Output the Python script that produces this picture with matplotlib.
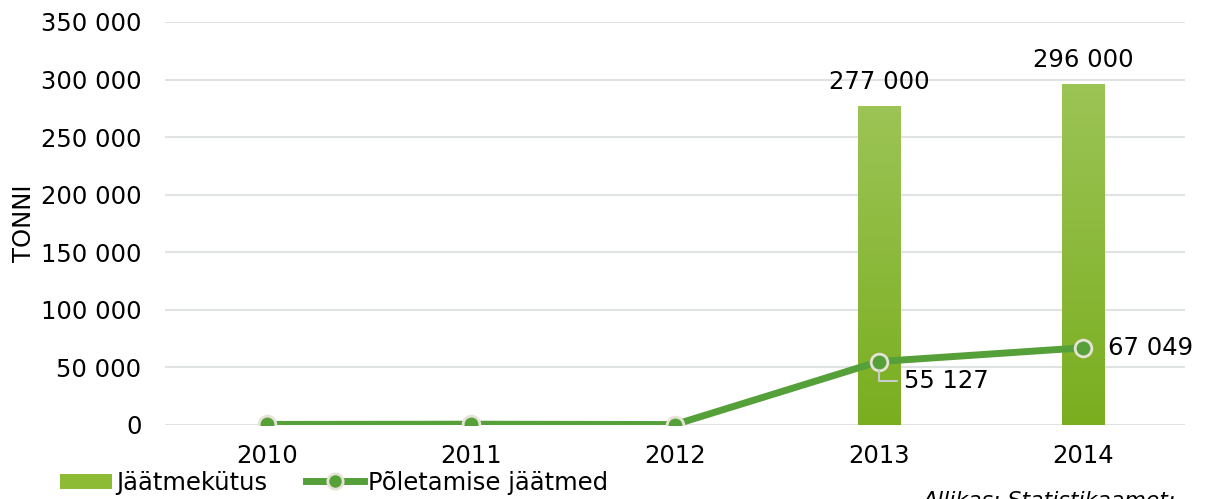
import matplotlib
matplotlib.use("Agg")
import matplotlib.pyplot as plt
import numpy as np
from matplotlib.lines import Line2D
from matplotlib.patches import Patch, Rectangle
from matplotlib.legend_handler import HandlerPatch
from matplotlib.colors import LinearSegmentedColormap

years = ["2010", "2011", "2012", "2013", "2014"]
fuel = [0, 0, 0, 277000, 296000]           # Jäätmekütus
ash = [500, 700, 400, 55127, 67049]        # Põletamise jäätmed
bar_labels = ["", "", "", "277 000", "296 000"]
line_labels = ["", "", "", "55 127", "67 049"]
yticks = [0, 50000, 100000, 150000, 200000, 250000, 300000, 350000]

plt.rcParams['font.family'] = ['DejaVu Sans']
FS = 17.5

fig = plt.figure(figsize=(12.06, 4.99), dpi=100)
ax = fig.add_axes([165/1206, 74/499, 1020/1206, (425-22)/499])

x = np.arange(len(years))
bw = 0.21
bars = ax.bar(x, fuel, width=bw, color='#8dbb34', zorder=2)

grad = np.linspace(0, 1, 256).reshape(-1, 1)
cmap = LinearSegmentedColormap.from_list('g', ['#7aae1f', '#9cc456'])
for b in bars:
    if b.get_height() <= 0:
        continue
    x0, w, h = b.get_x(), b.get_width(), b.get_height()
    im = ax.imshow(grad, extent=[x0, x0 + w, 0, h], origin='lower', cmap=cmap,
                   aspect='auto', zorder=2.1)
    im.set_clip_path(b)

ax.plot(x, ash, color='#56a03a', lw=5, marker='o', ms=12, mfc='#56a03a',
        mec='#e6e2d6', mew=2, zorder=3, solid_capstyle='butt')

ax.set_xlim(-0.5, 4.5)
ax.set_ylim(0, 350000)
ax.set_yticks(yticks)
ax.set_yticklabels([f"{v:,}".replace(",", " ") for v in yticks], fontsize=FS)
ax.set_xticks(x)
ax.set_xticklabels(years, fontsize=FS)
ax.tick_params(length=0)
ax.tick_params(axis='x', pad=14)
ax.tick_params(axis='y', pad=17)
ax.grid(axis='y', color='#dfe3e3', lw=1.5, zorder=0)
ax.set_axisbelow(True)
for s in ax.spines.values():
    s.set_visible(False)
ax.set_ylabel("TONNI", fontsize=FS)
ax.yaxis.set_label_coords(-(165 - 36) / 1020, 0.5)

for xi, v, lab in zip(x, fuel, bar_labels):
    if lab:
        ax.annotate(lab, (xi, v), xytext=(0, 9), textcoords='offset points',
                    ha='center', va='bottom', fontsize=FS)

ax.annotate(line_labels[3], (x[3], ash[3]), xytext=(18, -14), textcoords='offset points',
            ha='left', va='center', fontsize=FS,
            arrowprops=dict(arrowstyle='-', color='#c9cccc', lw=1.5,
                            connectionstyle='angle,angleA=0,angleB=90,rad=0',
                            shrinkA=3, shrinkB=6))
ax.annotate(line_labels[4], (x[4], ash[4]), xytext=(18, 0), textcoords='offset points',
            ha='left', va='center', fontsize=FS)


class NarrowPatch(HandlerPatch):
    def create_artists(self, legend, orig_handle, xdescent, ydescent, width,
                       height, fontsize, trans):
        w = width * 0.9
        p = Rectangle((-xdescent + (width - w), -ydescent + height * 0.05), w, height * 0.85,
                      facecolor='#8dbb34', edgecolor='none', transform=trans)
        return [p]


handles = [Patch(facecolor='#8dbb34', edgecolor='none'),
           Line2D([0], [0], color='#56a03a', lw=5, marker='o', ms=11,
                  mfc='#56a03a', mec='#e6e2d6', mew=2)]
fig.legend(handles, ["Jäätmekütus", "Põletamise jäätmed"], loc='lower left',
           bbox_to_anchor=(32/1206, -0.035), ncol=2, frameon=False, fontsize=FS,
           handlelength=2.4, handletextpad=0.15, columnspacing=1.6,
           handler_map={Patch: NarrowPatch()})

fig.text(1175/1206, -12/499, "Allikas: Statistikaamet;", ha='right', va='bottom',
         fontsize=15.8, style='italic')

fig.savefig("out.png", dpi=100)
